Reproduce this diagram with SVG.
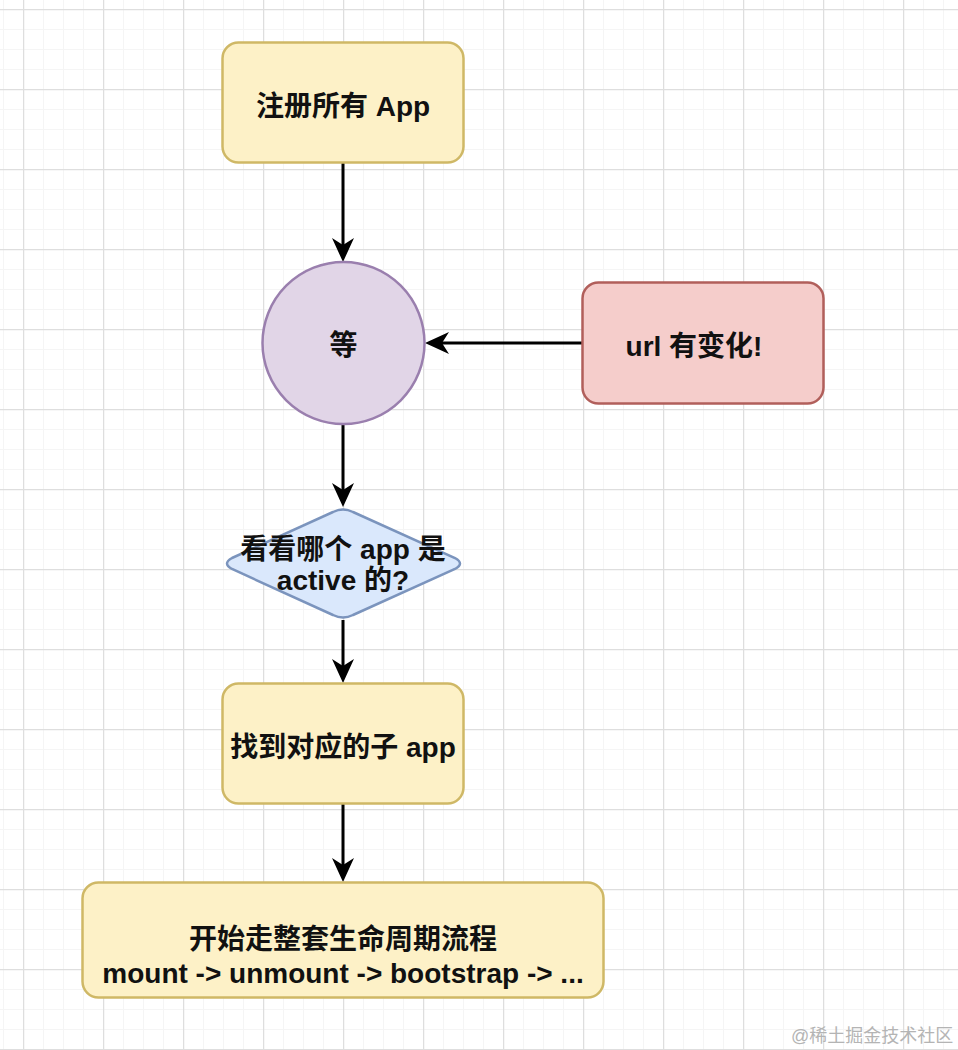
<svg xmlns="http://www.w3.org/2000/svg" width="958" height="1050" viewBox="0 0 958 1050">
  <defs>
    <pattern id="minor" x="3" y="9" width="20" height="20" patternUnits="userSpaceOnUse">
      <path d="M0,0.5 H20 M0.5,0 V20" fill="none" stroke="#f5f5f5" stroke-width="1"/>
    </pattern>
    <pattern id="major" x="23" y="9" width="80" height="80" patternUnits="userSpaceOnUse">
      <path d="M0,0.5 H80 M0.5,0 V80" fill="none" stroke="#dedede" stroke-width="1.5"/>
    </pattern>
    <marker id="arrow" viewBox="0 0 24 22" refX="18" refY="11" markerWidth="24" markerHeight="22" markerUnits="userSpaceOnUse" orient="auto">
      <path d="M0,0 L24,11 L0,22 L7,11 Z" fill="#000"/>
    </marker>
  </defs>
  <style>
    .lbl { font-family: "Liberation Sans", "Noto Sans CJK SC", sans-serif; font-weight: bold; font-size: 28px; fill: #111; text-anchor: middle; }
    .yellow { fill: #fdf1c7; stroke: #cfb866; stroke-width: 2.5; }
    .edge { fill: none; stroke: #000; stroke-width: 3; marker-end: url(#arrow); }
    .wm { font-family: "Liberation Sans", "Noto Sans CJK SC", sans-serif; font-size: 18px; fill: #b4b4b4; }
  </style>
  <rect width="958" height="1050" fill="#ffffff"/>
  <rect width="958" height="1050" fill="url(#minor)"/>
  <rect width="958" height="1050" fill="url(#major)"/>

  <g id="connectors">
    <path class="edge" d="M343,163 V256"/>
    <path class="edge" d="M582,343 H431"/>
    <path class="edge" d="M343,424 V501"/>
    <path class="edge" d="M343,620 V677"/>
    <path class="edge" d="M343,803 V876"/>
  </g>

  <g id="register">
    <rect class="yellow" x="222.5" y="42.5" width="241" height="120" rx="16"/>
    <text class="lbl" x="343" y="116">注册所有 App</text>
  </g>

  <g id="wait">
    <circle cx="343.5" cy="343" r="81" fill="#e1d5e7" stroke="#9a7fae" stroke-width="2.5"/>
    <text class="lbl" x="343.5" y="355">等</text>
  </g>

  <g id="url-change">
    <rect x="582.5" y="282.5" width="241" height="121" rx="16" fill="#f5cdcb" stroke="#b15f5b" stroke-width="2.5"/>
    <text class="lbl" x="694" y="356">url 有变化!</text>
  </g>

  <g id="decide">
    <path d="M232,558 L333,512 Q343,507 353,512 L455,558 Q465,563.5 455,569 L353,615 Q343,620 333,615 L232,569 Q222,563.5 232,558 Z" fill="#dae8fc" stroke="#7b94bd" stroke-width="2.5"/>
    <text class="lbl" x="343" y="559">看看哪个 app 是</text>
    <text class="lbl" x="343" y="590">active 的?</text>
  </g>

  <g id="find-app">
    <rect class="yellow" x="222.5" y="683.5" width="241" height="120" rx="16"/>
    <text class="lbl" x="343" y="757">找到对应的子 app</text>
  </g>

  <g id="lifecycle">
    <rect class="yellow" x="82.5" y="882.5" width="521" height="115" rx="16"/>
    <text class="lbl" x="343" y="949">开始走整套生命周期流程</text>
    <text class="lbl" x="343" y="983">mount -&gt; unmount -&gt; bootstrap -&gt; ...</text>
  </g>

  <text class="wm" x="791" y="1042">@稀土掘金技术社区</text>
</svg>
